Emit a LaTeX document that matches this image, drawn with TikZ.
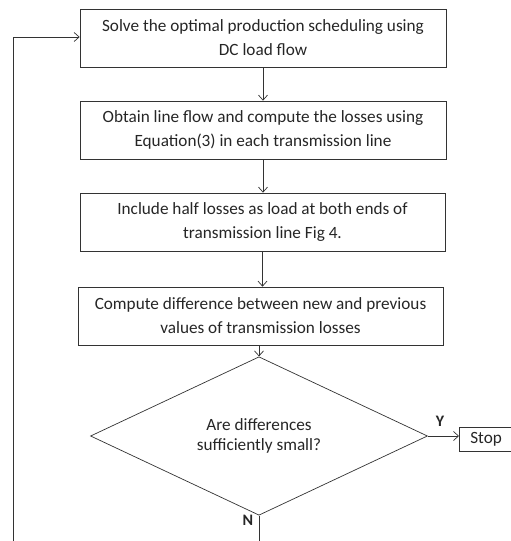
\documentclass[tikz,border=0pt]{standalone}
\usepackage{fontspec}
\setmainfont{Carlito}
\usetikzlibrary{shapes.geometric,arrows.meta}
\begin{document}
\begin{tikzpicture}[x=1pt,y=-1pt,
  line width=0.7pt,
  every node/.style={text=black!85, font=\fontsize{17.2}{24}\selectfont},
  procbox/.style={draw=black!80, minimum width=366pt, minimum height=58pt, align=center, inner sep=0pt},
  conn/.style={draw=black!80, -{Straight Barb[length=5pt,width=9pt]}},
  plainline/.style={draw=black!80},
  lbl/.style={font=\fontsize{16}{16}\bfseries\selectfont}]
\useasboundingbox (0,0) rectangle (511,541);
\node[procbox] (b1) at (263,38) {Solve the optimal production scheduling using\\DC load flow};
\node[procbox] (b2) at (263,130) {Obtain line flow and compute the losses using\\Equation(3) in each transmission line};
\node[procbox, minimum width=365pt] (b3) at (262.5,222) {Include half losses as load at both ends of\\transmission line Fig 4.};
\node[procbox, minimum width=365pt] (b4) at (260.5,316) {Compute difference between new and previous\\values of transmission losses};
\node[diamond, draw=black!80, minimum width=337pt, minimum height=113pt, inner sep=0pt, align=center, font=\fontsize{17.2}{19.5}\selectfont] (d) at (259,436) {Are differences\\sufficiently small?};
\node[anchor=west, minimum height=23pt, text width=30pt, align=left, inner xsep=11pt, inner ysep=0pt] (stop) at (459,439.5) {Stop};
\draw[plainline] ([xshift=40pt]stop.north east) -- (stop.north west) -- (stop.south west) -- ([xshift=40pt]stop.south east);
\coordinate (loopbot) at (13,541);
\coordinate (nbot) at (259,541);
\draw[conn] (b1.south) -- (b1.south |- b2.north);
\draw[conn] (b2.south) -- (b2.south |- b3.north);
\draw[conn] (b3.south) -- (b3.south |- b4.north);
\draw[conn] (b4.south -| d.north) -- (d.north);
\draw[conn] (d.east) -- (stop.west |- d.east);
\draw[plainline] (d.south) -- (nbot);
\draw[conn] (loopbot) |- ([yshift=1pt]b1.west);
\node[lbl] (ylab) at (440,421) {Y};
\node[lbl] (nlab) at (248,520) {N};
\end{tikzpicture}
\end{document}
